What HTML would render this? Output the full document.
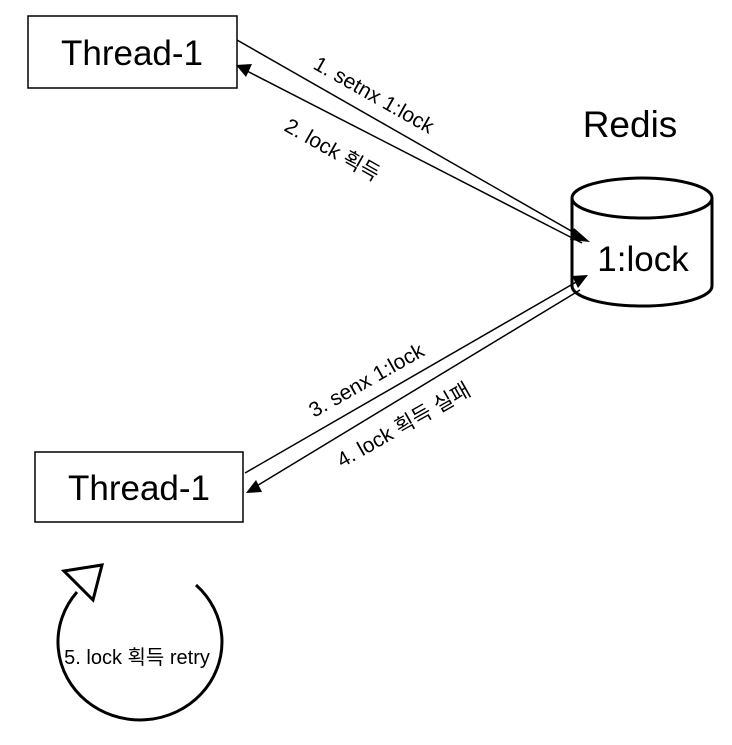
<!DOCTYPE html>
<html><head><style>
body{margin:0;background:#fff;width:732px;height:740px;overflow:hidden;font-family:"Liberation Sans","Noto Sans CJK KR",sans-serif;}
</style></head><body>
<svg width="732" height="740" xmlns="http://www.w3.org/2000/svg" font-family="Liberation Sans, Noto Sans CJK KR, sans-serif">
<rect x="28" y="16" width="209" height="72" fill="#fff" stroke="#000" stroke-width="1.5"/>
<text x="132" y="65" font-size="35" text-anchor="middle">Thread-1</text>
<rect x="35" y="452" width="208" height="70" fill="#fff" stroke="#000" stroke-width="1.5"/>
<text x="139" y="500" font-size="35" text-anchor="middle">Thread-1</text>
<text x="630" y="137" font-size="37" text-anchor="middle">Redis</text>
<path d="M572 198 L572 286 A70 20 0 0 0 712 286 L712 198" fill="#fff" stroke="#000" stroke-width="3"/>
<ellipse cx="642" cy="198" rx="70" ry="20" fill="#fff" stroke="#000" stroke-width="3"/>
<text x="643" y="271" font-size="35" text-anchor="middle">1:lock</text>
<g stroke="#000" stroke-width="1.5" fill="#000">
<line x1="237" y1="40" x2="580" y2="236"/>
<polygon points="590,242 574,228 570,240" stroke="none"/>
<line x1="582" y1="243" x2="245" y2="70"/>
<polygon points="236,65 252,64 246,77" stroke="none"/>
<line x1="245" y1="473" x2="578" y2="281"/>
<polygon points="588,275 572,276 578,288" stroke="none"/>
<line x1="580" y1="290" x2="255" y2="487"/>
<polygon points="246,493 256,480 262,492" stroke="none"/>
</g>
<text transform="translate(312,68) rotate(29.5)" font-size="21">1. setnx 1:lock</text>
<text transform="translate(283,130) rotate(29.5)" font-size="21">2. lock 획득</text>
<text transform="translate(314,418) rotate(-29.5)" font-size="21">3. senx 1:lock</text>
<text transform="translate(342,468) rotate(-29.5)" font-size="21">4. lock 획득 실패</text>
<path d="M196 585 A82 78 0 1 1 77 592" fill="none" stroke="#000" stroke-width="3"/>
<polygon points="64,571 102,565 93,600" fill="#fff" stroke="#000" stroke-width="3"/>
<text x="137" y="664" font-size="20" text-anchor="middle">5. lock 획득 retry</text>
</svg>
</body></html>
